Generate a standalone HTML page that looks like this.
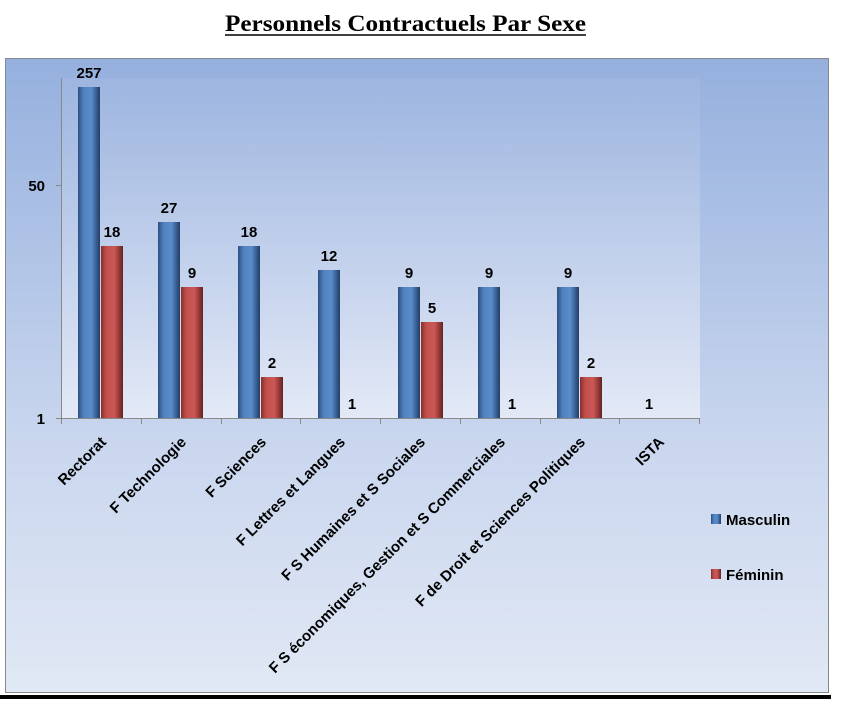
<!DOCTYPE html>
<html><head><meta charset="utf-8"><style>
body{margin:0;background:#fff;width:862px;height:711px;overflow:hidden}
svg{display:block}
text{font-family:"Liberation Sans",sans-serif;font-weight:bold}
</style></head><body>
<svg width="862" height="711" viewBox="0 0 862 711">
<defs>
<linearGradient id="bg" x1="0" y1="0" x2="0" y2="1">
<stop offset="0" stop-color="#95b0de"/><stop offset="0.6" stop-color="#c9d6ee"/><stop offset="1" stop-color="#e1e8f5"/>
</linearGradient>
<linearGradient id="pl" x1="0" y1="0" x2="0" y2="1">
<stop offset="0" stop-color="#9db5e0"/><stop offset="1" stop-color="#e3e9f6"/>
</linearGradient>
<linearGradient id="bl" x1="0" y1="0" x2="1" y2="0">
<stop offset="0" stop-color="#2c4f82"/><stop offset="0.25" stop-color="#4f81bd"/><stop offset="0.6" stop-color="#5a8ccb"/><stop offset="1" stop-color="#213d66"/>
</linearGradient>
<linearGradient id="rd" x1="0" y1="0" x2="1" y2="0">
<stop offset="0" stop-color="#8a2e2c"/><stop offset="0.25" stop-color="#c0504d"/><stop offset="0.6" stop-color="#cc5856"/><stop offset="1" stop-color="#672220"/>
</linearGradient>
</defs>
<text x="225" y="31" textLength="361" lengthAdjust="spacingAndGlyphs" style="font-family:'Liberation Serif',serif;font-size:23px">Personnels Contractuels Par Sexe</text>
<line x1="225" y1="35" x2="586" y2="35" stroke="#000" stroke-width="1.5"/>
<rect x="5.5" y="58.5" width="823" height="634" fill="url(#bg)" stroke="#888"/>
<rect x="0" y="695" width="831" height="4" fill="#000"/>
<rect x="62" y="78" width="638" height="340" fill="url(#pl)"/>
<line x1="61.5" y1="78" x2="61.5" y2="418" stroke="#888"/>
<line x1="61" y1="418.5" x2="700" y2="418.5" stroke="#888"/>
<line x1="56" y1="185.5" x2="62" y2="185.5" stroke="#888"/>
<line x1="56" y1="418.5" x2="62" y2="418.5" stroke="#888"/>
<g stroke="#888">
<line x1="61.5" y1="418" x2="61.5" y2="424"/><line x1="141.5" y1="418" x2="141.5" y2="424"/><line x1="221.5" y1="418" x2="221.5" y2="424"/><line x1="300.5" y1="418" x2="300.5" y2="424"/><line x1="380.5" y1="418" x2="380.5" y2="424"/><line x1="460.5" y1="418" x2="460.5" y2="424"/><line x1="540.5" y1="418" x2="540.5" y2="424"/><line x1="619.5" y1="418" x2="619.5" y2="424"/><line x1="699.5" y1="418" x2="699.5" y2="424"/>
</g>
<text x="45" y="191" font-size="15" text-anchor="end">50</text>
<text x="45" y="424" font-size="15" text-anchor="end">1</text>
<g font-size="15" text-anchor="middle">
<rect x="78" y="87" width="22" height="331" fill="url(#bl)"/><text x="89" y="78">257</text>
<rect x="101" y="246" width="22" height="172" fill="url(#rd)"/><text x="112" y="237">18</text>
<rect x="158" y="222" width="22" height="196" fill="url(#bl)"/><text x="169" y="213">27</text>
<rect x="181" y="287" width="22" height="131" fill="url(#rd)"/><text x="192" y="278">9</text>
<rect x="238" y="246" width="22" height="172" fill="url(#bl)"/><text x="249" y="237">18</text>
<rect x="261" y="377" width="22" height="41" fill="url(#rd)"/><text x="272" y="368">2</text>
<rect x="318" y="270" width="22" height="148" fill="url(#bl)"/><text x="329" y="261">12</text>
<text x="352" y="409">1</text>
<rect x="398" y="287" width="22" height="131" fill="url(#bl)"/><text x="409" y="278">9</text>
<rect x="421" y="322" width="22" height="96" fill="url(#rd)"/><text x="432" y="313">5</text>
<rect x="478" y="287" width="22" height="131" fill="url(#bl)"/><text x="489" y="278">9</text>
<text x="512" y="409">1</text>
<rect x="557" y="287" width="22" height="131" fill="url(#bl)"/><text x="568" y="278">9</text>
<rect x="580" y="377" width="22" height="41" fill="url(#rd)"/><text x="591" y="368">2</text>
<text x="649" y="409">1</text>
</g>
<g font-size="15" text-anchor="end">
<text transform="translate(107,443) rotate(-45)">Rectorat</text>
<text transform="translate(187,443) rotate(-45)">F Technologie</text>
<text transform="translate(267,443) rotate(-45)">F Sciences</text>
<text transform="translate(346,443) rotate(-45)">F Lettres et Langues</text>
<text transform="translate(426,443) rotate(-45)">F S Humaines et S Sociales</text>
<text transform="translate(506,443) rotate(-45)">F S économiques, Gestion et S Commerciales</text>
<text transform="translate(586,443) rotate(-45)">F de Droit et Sciences Politiques</text>
<text transform="translate(665,443) rotate(-45)">ISTA</text>
</g>
<rect x="711" y="514" width="10" height="10" fill="url(#bl)"/>
<text x="726" y="525" font-size="15">Masculin</text>
<rect x="711" y="569" width="10" height="10" fill="url(#rd)"/>
<text x="726" y="580" font-size="15">Féminin</text>
</svg>
</body></html>
